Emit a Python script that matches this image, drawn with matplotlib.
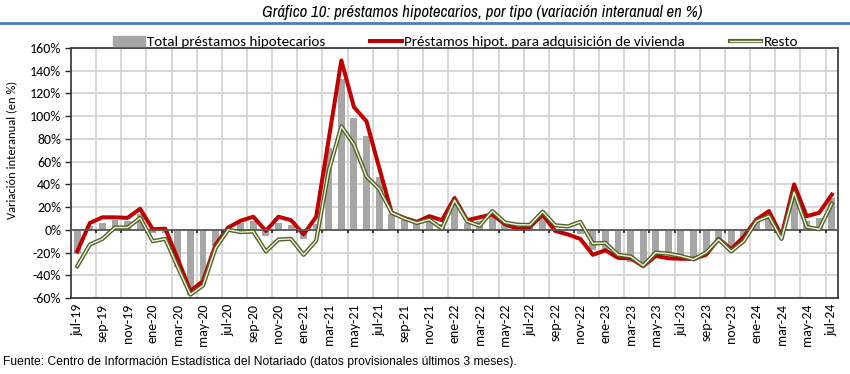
import numpy as np
import matplotlib
matplotlib.use('Agg')
import matplotlib.pyplot as plt
from matplotlib.lines import Line2D
from matplotlib.patches import Patch

meses = ['jul-19', 'ago-19', 'sep-19', 'oct-19', 'nov-19', 'dic-19',
         'ene-20', 'feb-20', 'mar-20', 'abr-20', 'may-20', 'jun-20',
         'jul-20', 'ago-20', 'sep-20', 'oct-20', 'nov-20', 'dic-20',
         'ene-21', 'feb-21', 'mar-21', 'abr-21', 'may-21', 'jun-21',
         'jul-21', 'ago-21', 'sep-21', 'oct-21', 'nov-21', 'dic-21',
         'ene-22', 'feb-22', 'mar-22', 'abr-22', 'may-22', 'jun-22',
         'jul-22', 'ago-22', 'sep-22', 'oct-22', 'nov-22', 'dic-22',
         'ene-23', 'feb-23', 'mar-23', 'abr-23', 'may-23', 'jun-23',
         'jul-23', 'ago-23', 'sep-23', 'oct-23', 'nov-23', 'dic-23',
         'ene-24', 'feb-24', 'mar-24', 'abr-24', 'may-24', 'jun-24',
         'jul-24']

# variacion interanual (%)
total = [-21, 3, 6, 8.5, 7.5, 14,
         -3, -3, -33, -57, -44, -14,
         0, 6, 8, -5.5, 6, 4,
         -8.5, 5, 72, 133, 98, 82.5,
         46.5, 14, 9, 6, 10, 5,
         25, 6, 8, 13, 4.7, 2,
         3, 12, 1, -1, -4, -18,
         -17, -25, -28, -32, -21, -22,
         -23, -27, -21, -8, -14, -8,
         8, 12, -3, 35, 8, 10.5,
         28]
vivienda = [-19, 6, 11, 11, 10.5, 18.5,
            0.5, 1, -26, -54, -45, -13,
            2, 8, 11.5, -1, 11.5, 8.5,
            -4, 11.5, 80, 149, 108, 95.5,
            55, 15, 10.5, 7, 12, 8.5,
            28, 8.5, 11, 13.5, 5, 1,
            2.5, 13.5, -1, -4, -8, -22,
            -18, -24.7, -25, -32, -23, -25,
            -25.5, -25.5, -22, -8, -17, -6,
            9, 16.5, -5.5, 40, 12, 15,
            31]
resto = [-32, -13, -8, 2, 2, 10.5,
         -10, -8, -33, -57, -49, -16,
         0, -2, -1.5, -19, -8.5, -8,
         -22, -9.5, 52, 91, 75, 47,
         36, 15, 10, 6, 9, 1,
         26, 7.5, 3.5, 16.5, 6.5, 4.5,
         4.3, 16, 4, 3, 7, -12,
         -11.5, -22, -23.5, -31.5, -20, -21,
         -23, -26, -20, -8.5, -19, -10,
         7.5, 12, -8, 33, 2.5, 0.5,
         23]

txt_font = ['Carlito', 'Lato', 'DejaVu Sans']
narrow_font = ['Archivo Narrow', 'Liberation Sans', 'DejaVu Sans']
plt.rcParams['font.family'] = txt_font

x = np.arange(len(meses))

fig = plt.figure(figsize=(8.5, 3.74), dpi=100)
ax = fig.add_axes([0.0835, 0.2032, 0.9025, 0.6685])

ax.bar(x, total, width=0.55, color='#A6A6A6', zorder=2)
ax.plot(x, vivienda, color='#C00000', lw=2.9, zorder=3)
ax.plot(x, resto, color='#4F6228', lw=3.0, zorder=4)
ax.plot(x, resto, color='#F4F4DC', lw=1.0, zorder=5)

ax.axhline(0, color='#595959', lw=1.3, zorder=3.5)
# marcas del eje de categorias sobre la linea de cero
bnd = np.arange(1.5, len(meses), 2)
ax.vlines(bnd, -2.8, 0, color='#262626', lw=1.2, zorder=3.5)

ax.set_xlim(-0.5, len(meses) - 0.5)
ax.set_ylim(-60, 160)
ax.set_yticks(np.arange(-60, 161, 20))
ax.set_yticklabels(['%d%%' % v for v in np.arange(-60, 161, 20)])
ax.set_xticks(x[::2])
ax.set_xticklabels(meses[::2], rotation=90)
ax.set_xticks(bnd, minor=True)
ax.tick_params(axis='x', which='both', length=0, labelsize=10, pad=4, colors='#000000')
ax.tick_params(axis='y', length=4, width=1, color='#262626', labelsize=10, pad=3)

ax.grid(axis='y', which='major', color='#D4D4D4', lw=1.3, zorder=0)
ax.grid(axis='x', which='minor', color='#D4D4D4', lw=1.3, zorder=0)
ax.set_axisbelow(True)
for s in ax.spines.values():
    s.set_color('#404040')
    s.set_linewidth(1.3)

fig.text(0.014, 0.60, 'Variación interanual (en %)', rotation=90,
         ha='center', va='center', fontsize=9)

handles = [Patch(color='#A6A6A6'),
           Line2D([], [], color='#C00000', lw=2.9),
           (Line2D([], [], color='#4F6228', lw=3.0), Line2D([], [], color='#F4F4DC', lw=1.0))]
labels = ['Total préstamos hipotecarios',
          'Préstamos hipot. para adquisición de vivienda', 'Resto']
fig.legend(handles, labels, loc='center', bbox_to_anchor=(0.536, 0.887), ncol=3,
           frameon=False, fontsize=10.8, handlelength=2.1, handleheight=0.6,
           handletextpad=0.15, columnspacing=3.0, borderaxespad=0)

fig.text(0.567, 0.966, 'Gráfico 10: préstamos hipotecarios, por tipo (variación interanual en %)',
         ha='center', va='center', fontsize=12.1, style='italic', family=narrow_font)
fig.add_artist(Line2D([0, 1], [0.939, 0.939], transform=fig.transFigure,
                      color='#4A7EBB', lw=2))
fig.text(0.004, 0.032, 'Fuente: Centro de Información Estadística del Notariado (datos provisionales últimos 3 meses).',
         ha='left', va='center', fontsize=8.75, family=['Liberation Sans', 'DejaVu Sans'])

fig.savefig('out.png', dpi=100)
